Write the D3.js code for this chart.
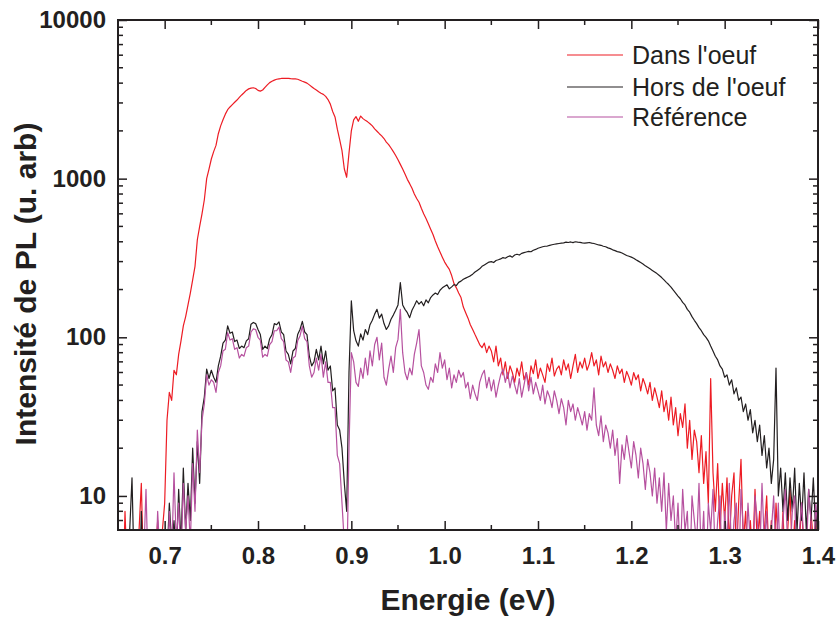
<!DOCTYPE html>
<html>
<head>
<meta charset="utf-8">
<script src="https://cdn.jsdelivr.net/npm/d3@7"></script>
<style>
  html, body { margin: 0; padding: 0; background: #ffffff; }
  svg { display: block; font-family: "Liberation Sans", Arial, sans-serif; }
</style>
</head>
<body>
<svg id="chart" width="837" height="617"></svg>
<script>
// Energy grid (eV): 0.650 to 1.400 by 0.0025
const energyStart = 0.65, energyStep = 0.0025, energyCount = 301;
const energies = d3.range(energyCount).map(i => +(energyStart + i * energyStep).toFixed(4));

// Dans l'oeuf (red)
const dansOeuf = [
  3, 5, 2, 8, 3, 4, 2, 5, 3, 6,
  12, 3, 4, 2, 5, 3, 4, 7, 3, 6,
  9, 30, 45, 40, 62, 58, 78, 95, 118, 135,
  160, 190, 230, 280, 412, 500, 600, 736, 1000, 1150,
  1330, 1480, 1620, 1920, 2150, 2350, 2550, 2720, 2830, 2930,
  3030, 3130, 3250, 3370, 3480, 3600, 3680, 3720, 3740, 3700,
  3600, 3560, 3620, 3760, 3900, 4030, 4110, 4180, 4230, 4260,
  4280, 4290, 4280, 4290, 4270, 4260, 4250, 4230, 4170, 4110,
  4060, 4000, 3900, 3800, 3700, 3620, 3530, 3450, 3400, 3300,
  3150, 2950, 2650, 2450, 2050, 1760, 1500, 1150, 1020, 1450,
  2000, 2350, 2460, 2300, 2480, 2390, 2330, 2280, 2220, 2150,
  2060, 1990, 1920, 1860, 1790, 1700, 1640, 1560, 1480, 1400,
  1315, 1230, 1150, 1070, 990, 930, 870, 800, 750, 710,
  650, 600, 560, 520, 480, 445, 405, 372, 345, 320,
  298, 282, 268, 245, 218, 205, 190, 178, 155, 143,
  132, 120, 112, 104, 97, 90, 86, 92, 80, 88,
  82, 70, 88, 66, 74, 58, 70, 55, 66, 60,
  52, 64, 57, 70, 54, 60, 50, 66, 59, 72,
  55, 64, 58, 52, 68, 61, 74, 57, 63, 66,
  58, 72, 62, 68, 55, 66, 78, 60, 70, 64,
  74, 62, 68, 80, 66, 72, 58, 76, 65, 70,
  60, 68, 62, 55, 66, 59, 63, 52, 61, 56,
  50, 60, 54, 58, 46, 55, 50, 44, 52, 40,
  48, 42, 36, 46, 34, 40, 30, 42, 28, 36,
  24, 33, 27, 38, 20, 30, 17, 26, 22, 14,
  24, 12, 19, 9, 55, 14, 8, 16, 6, 12,
  7, 13, 5, 10, 14, 4, 9, 17, 5, 8,
  3, 7, 4, 11, 5, 8, 3, 6, 10, 4,
  7, 3, 9, 5, 4, 8, 3, 6, 11, 4,
  7, 3, 5, 9, 4, 6, 3, 8, 5, 7,
  4
];

// Hors de l'oeuf (black)
const horsOeuf = [
  3, 5, 2, 4, 3, 6, 13, 3, 4, 2,
  8, 3, 5, 2, 4, 3, 5, 2, 6, 3,
  5, 4, 9, 5, 7, 4, 11, 5, 15, 6,
  12, 7, 20, 9, 22, 12, 34, 42, 63, 55,
  62, 56, 52, 66, 76, 92, 96, 118, 106, 108,
  94, 96, 85, 88, 86, 95, 98, 121, 124, 122,
  112, 104, 84, 88, 85, 98, 104, 122, 120, 125,
  108, 104, 82, 78, 68, 82, 85, 104, 112, 126,
  108, 104, 76, 66, 70, 84, 72, 88, 68, 82,
  62, 66, 46, 48, 28, 26, 20, 12, 8, 60,
  170, 110, 95, 88, 105, 96, 112, 104, 120, 128,
  140, 150, 132, 140, 122, 112, 118, 130, 138, 148,
  160, 221, 160, 150, 143, 133, 148, 158, 170, 162,
  168, 158, 172, 165, 178, 185, 190, 186, 198, 205,
  210, 214, 202, 208, 215, 212, 222, 226, 232, 236,
  240, 244, 250, 258, 264, 270, 280, 286, 292, 298,
  300, 296, 305, 308, 312, 318, 315, 322, 326, 320,
  330, 334, 330, 338, 342, 345, 348, 346, 354, 358,
  364, 368, 372, 375, 376, 380, 383, 386, 388, 390,
  392, 394, 398, 396, 399, 395, 400, 398, 397, 394,
  392, 394, 396, 392, 390, 386, 382, 380, 375, 372,
  366, 362, 356, 352, 347, 344, 340, 334, 328, 324,
  320, 315, 308, 302, 296, 290, 282, 276, 270, 264,
  258, 252, 245, 238, 230, 222, 215, 207, 198, 190,
  182, 175, 166, 160, 150, 144, 135, 128, 122, 115,
  110, 104, 100, 95, 88, 82, 76, 72, 66, 63,
  56, 58, 50, 54, 44, 48, 40, 42, 34, 38,
  30, 35, 25, 30, 22, 28, 18, 24, 15, 20,
  12, 17, 64, 10, 15, 8, 14, 7, 13, 8,
  15, 6, 12, 7, 14, 6, 11, 7, 13, 6,
  10
];

// Référence (magenta)
const reference = [
  3, 2, 4, 2, 3, 5, 3, 4, 2, 6,
  3, 4, 11, 3, 2, 5, 3, 8, 4, 2,
  5, 3, 8, 4, 14, 5, 9, 4, 12, 6,
  10, 5, 16, 8, 26, 14, 30, 38, 58, 50,
  54, 52, 45, 60, 66, 82, 84, 107, 96, 98,
  84, 86, 74, 78, 76, 86, 88, 108, 113, 112,
  100, 96, 75, 78, 76, 90, 94, 110, 110, 116,
  98, 94, 72, 70, 60, 74, 76, 95, 102, 117,
  98, 94, 66, 56, 60, 74, 62, 78, 56, 70,
  52, 52, 36, 36, 18, 16, 9, 5, 3, 20,
  80, 70, 52, 49, 64, 55, 74, 58, 82, 66,
  90, 100, 72, 92, 56, 50, 63, 76, 60, 86,
  97, 150, 80, 60, 54, 64, 58, 78, 92, 112,
  66, 60, 50, 47, 56, 52, 68, 60, 80, 64,
  72, 54, 64, 48, 58, 52, 62, 56, 60, 48,
  52, 41, 50, 44, 40, 52, 58, 62, 48, 56,
  46, 54, 42, 50, 58, 63, 52, 60, 48, 57,
  50, 44, 55, 42, 50, 60, 46, 56, 44, 52,
  46, 40, 50, 38, 46, 42, 36, 46, 40, 33,
  41, 36, 28, 40, 34, 38, 30, 36, 32, 28,
  34, 26, 33, 30, 48, 28, 24, 32, 22, 28,
  25, 20, 26, 18, 23, 12, 21, 17, 24, 19,
  15, 22, 18, 13, 20, 16, 11, 17, 14, 10,
  15, 9, 13, 8, 14, 6, 12, 7, 10, 5,
  9, 4, 11, 6, 8, 3, 10, 7, 5, 12,
  4, 8, 3, 9, 6, 11, 4, 7, 10, 3,
  8, 5, 12, 4, 7, 9, 3, 11, 6, 4,
  9, 5, 3, 10, 7, 4, 12, 5, 8, 3,
  6, 10, 4, 9, 3, 7, 11, 5, 4, 8,
  10, 3, 6, 9, 5, 4, 11, 7, 3, 9,
  6
];

const seriesNames = ["Dans l'oeuf", "Hors de l'oeuf", "Référence"];
const seriesColors = ["#ed1c24", "#231f20", "#b6519f"];
const seriesValues = [dansOeuf, horsOeuf, reference];

const xTicks = [0.7, 0.8, 0.9, 1.0, 1.1, 1.2, 1.3, 1.4];
const yTicks = [10, 100, 1000, 10000];

// ---------- drawing ----------
const W = 837, H = 617;
const margin = { left: 118, top: 20, right: 19, bottom: 87 };
const iw = W - margin.left - margin.right;
const ih = H - margin.top - margin.bottom;

const svg = d3.select("#chart");
const g = svg.append("g").attr("transform", `translate(${margin.left},${margin.top})`);

const x = d3.scaleLinear().domain([0.65, 1.4]).range([0, iw]);
const y = d3.scaleLog().domain([6.1, 10000]).range([ih, 0]);

g.append("clipPath").attr("id", "clip")
  .append("rect").attr("x", 0).attr("y", 0).attr("width", iw).attr("height", ih);

const line = d3.line()
  .x((d, i) => x(energies[i]))
  .y(d => y(Math.max(d, 1)));

const plot = g.append("g").attr("clip-path", "url(#clip)");
[0, 1, 2].forEach(k => {
  plot.append("path")
    .datum(seriesValues[k])
    .attr("fill", "none")
    .attr("stroke", seriesColors[k])
    .attr("stroke-width", 1.2)
    .attr("stroke-linejoin", "round")
    .attr("d", line);
});

// minor ticks
const xMinor = d3.range(0.65, 1.4001, 0.05).filter(v => !xTicks.some(t => Math.abs(t - v) < 1e-6));
const yMinor = [];
[1, 10, 100, 1000].forEach(dec => { for (let m = 2; m <= 9; m++) { const v = dec * m; if (v >= 6.1) yMinor.push(v); } });

const axisColor = "#231f20";
const tickFont = "bold 24px 'Liberation Sans', Arial, sans-serif";

// bottom axis
const xAxisB = d3.axisBottom(x).tickValues(xTicks).tickSize(-9).tickPadding(17)
  .tickFormat(d3.format(".1f"));
const gxb = g.append("g").attr("transform", `translate(0,${ih})`).call(xAxisB);
gxb.append("g").selectAll("line").data(xMinor).join("line")
  .attr("x1", d => x(d)).attr("x2", d => x(d)).attr("y1", 0).attr("y2", -5);

// top axis
const xAxisT = d3.axisTop(x).tickValues(xTicks).tickSize(-9).tickFormat("");
const gxt = g.append("g").call(xAxisT);
gxt.append("g").selectAll("line").data(xMinor).join("line")
  .attr("x1", d => x(d)).attr("x2", d => x(d)).attr("y1", 0).attr("y2", 5);

// left axis
const yAxisL = d3.axisLeft(y).tickValues(yTicks).tickSize(-9).tickPadding(12)
  .tickFormat(d3.format("d"));
const gyl = g.append("g").call(yAxisL);
gyl.append("g").selectAll("line").data(yMinor).join("line")
  .attr("x1", 0).attr("x2", 5).attr("y1", d => y(d)).attr("y2", d => y(d));

// right axis
const yAxisR = d3.axisRight(y).tickValues(yTicks).tickSize(-9).tickFormat("");
const gyr = g.append("g").attr("transform", `translate(${iw},0)`).call(yAxisR);
gyr.append("g").selectAll("line").data(yMinor).join("line")
  .attr("x1", 0).attr("x2", -5).attr("y1", d => y(d)).attr("y2", d => y(d));

[gxb, gxt, gyl, gyr].forEach(a => {
  a.selectAll("line").attr("stroke", axisColor).attr("stroke-width", 1.5);
  a.select(".domain").remove();
  a.selectAll("text").attr("fill", axisColor)
    .style("font", tickFont);
});

// frame
g.append("rect").attr("x", 0).attr("y", 0).attr("width", iw).attr("height", ih)
  .attr("fill", "none").attr("stroke", axisColor).attr("stroke-width", 2);

// axis titles
svg.append("text")
  .attr("x", margin.left + iw / 2).attr("y", 610)
  .attr("text-anchor", "middle")
  .attr("fill", axisColor)
  .style("font", "bold 30px 'Liberation Sans', Arial, sans-serif")
  .text("Energie (eV)");

svg.append("text")
  .attr("transform", `translate(36,${margin.top + ih / 2 + 9}) rotate(-90)`)
  .attr("text-anchor", "middle")
  .attr("fill", axisColor)
  .style("font", "bold 30px 'Liberation Sans', Arial, sans-serif")
  .text("Intensité de PL (u. arb)");

// legend
const legend = svg.append("g");
const legY = [55, 87, 117];
seriesNames.forEach((name, k) => {
  legend.append("line")
    .attr("x1", 567).attr("x2", 623).attr("y1", legY[k]).attr("y2", legY[k])
    .attr("stroke", seriesColors[k]).attr("stroke-width", 1.2);
  legend.append("text")
    .attr("x", 632).attr("y", legY[k]).attr("dy", "0.35em")
    .attr("fill", axisColor)
    .style("font", "25px 'Liberation Sans', Arial, sans-serif")
    .text(name);
});
</script>
</body>
</html>
